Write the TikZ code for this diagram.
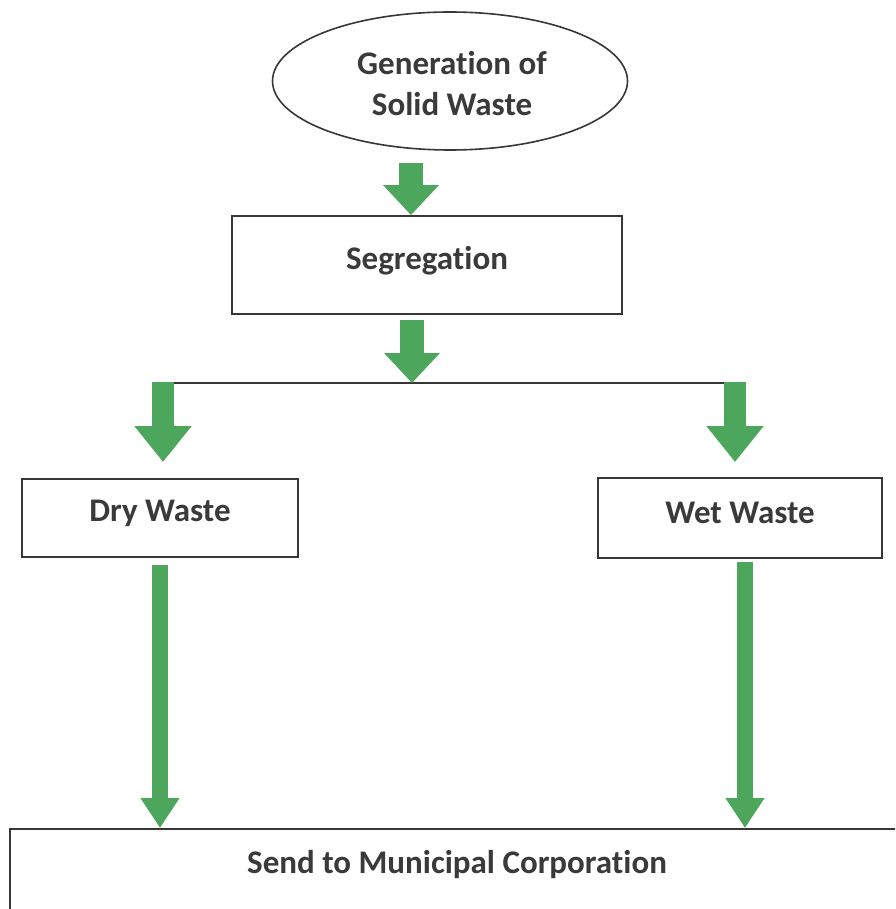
\documentclass[tikz,border=0pt]{standalone}
\usepackage{fontspec}
\setmainfont{Carlito}[Ligatures=NoCommon]
\usetikzlibrary{shapes.geometric,arrows.meta}
\definecolor{arrowgreen}{RGB}{76,166,92}
\definecolor{edgegray}{RGB}{55,55,55}
\definecolor{textgray}{RGB}{58,58,58}
\tikzset{
  lbl/.style={font=\fontsize{33}{41}\selectfont\bfseries, text=textgray, align=center, inner sep=0pt},
  boxnode/.style={draw=edgegray, line width=1.8pt, rectangle, inner sep=0pt, fill=white},
  bigarrow/.style={draw=arrowgreen, line width=24pt, -{Triangle[width=54pt,length=30pt]}, arrowgreen},
  midarrow/.style={draw=arrowgreen, line width=22pt, -{Triangle[width=55pt,length=36pt]}, arrowgreen},
  longarrow/.style={draw=arrowgreen, line width=16pt, -{Triangle[width=37pt,length=30pt]}, arrowgreen},
}
\begin{document}
\begin{tikzpicture}[x=1pt,y=-1pt]
\useasboundingbox (0,0) rectangle (895,909);
\clip (0,0) rectangle (895,909);
\fill[white] (0,0) rectangle (895,909);

% nodes
\node[ellipse, draw=edgegray, line width=1.6pt, minimum width=355pt, minimum height=138pt, inner sep=0pt] (gen) at (450,81) {};
\node[lbl] (gentext) at (452,84) {Generation of\\Solid Waste};

\node[boxnode, minimum width=390pt, minimum height=98pt] (seg) at (427,265) {};
\node[lbl] (segtext) at (427,261) {Segregation};

\node[boxnode, minimum width=276pt, minimum height=78pt] (dry) at (160,518) {};
\node[lbl] (drytext) at (160,513) {Dry Waste};

\node[boxnode, minimum width=284pt, minimum height=80pt] (wet) at (740,518) {};
\node[lbl] (wettext) at (740,513) {Wet Waste};

\node[boxnode, minimum width=895pt, minimum height=160pt, anchor=north] (muni) at (457.5,828) {};
\node[lbl] (munitext) at (457,865) {Send to Municipal Corporation};

% coordinates
\coordinate (s1) at (411,163);
\coordinate (s2) at (412,320);
\coordinate (hl) at (163,383);
\coordinate (hr) at (735,383);
\coordinate (t3) at (163,462);
\coordinate (t4) at (735,462);
\coordinate (s5) at (160,565);
\coordinate (s6) at (745,562);

% connectors
\draw[edgegray, line width=1.6pt] (hl) -- (hr);
\draw[bigarrow] (s1) -- (s1 |- seg.north);
\draw[bigarrow] (s2) -- (s2 |- hl);
\draw[midarrow] ([yshift=1pt]hl) -- (t3);
\draw[midarrow] ([yshift=1pt]hr) -- (t4);
\draw[longarrow] (s5) -- (s5 |- muni.north);
\draw[longarrow] (s6) -- (s6 |- muni.north);
\end{tikzpicture}
\end{document}
